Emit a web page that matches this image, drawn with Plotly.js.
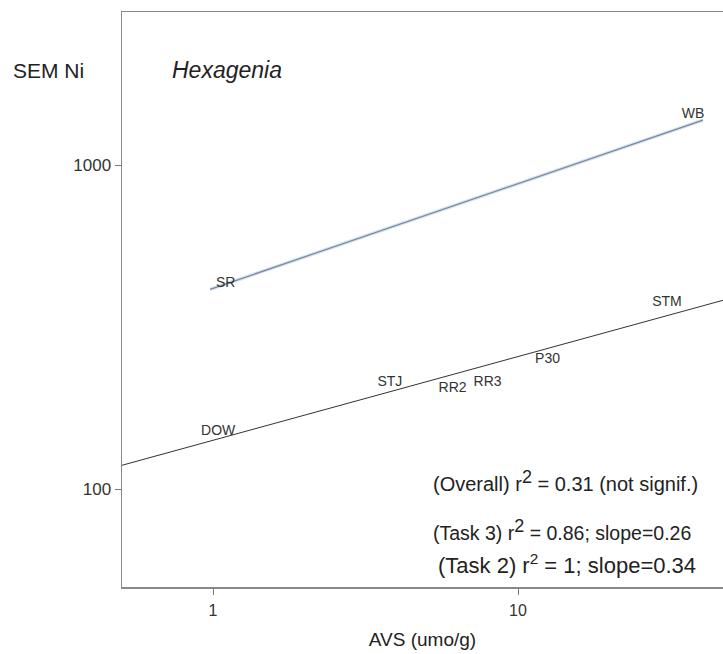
<!DOCTYPE html>
<html>
<head>
<meta charset="utf-8">
<script src="https://cdn.plot.ly/plotly-3.0.1.min.js"></script>
<style>html,body{margin:0;padding:0;background:#fff;}#chart{width:723px;height:654px;}</style>
</head>
<body>
<div id="chart"></div>
<script>
// Site labels (AVS umol/g, SEM Ni)
const siteNames = ["SR", "WB", "DOW", "STJ", "RR2", "RR3", "P30", "STM"];
const siteAVS   = [1.10, 37.5, 1.04, 3.80, 6.10, 7.95, 12.5, 30.8];
const siteSEM   = [433, 1436, 151, 213, 205, 214, 251, 378];

// Task 2 regression (upper line)
const task2X = [0.978, 40.4];
const task2Y = [414, 1377];

// Task 3 regression (lower line)
const task3X = [0.5, 47];
const task3Y = [118.5, 383];

const xTicks = [1, 10];
const yTicks = [100, 1000];

const font = "Liberation Sans, Arial, sans-serif";

const traces = [
  {x: task2X, y: task2Y, mode: "lines", line: {color: "#d3e2f4", width: 3.5}, hoverinfo: "skip", showlegend: false},
  {x: task2X, y: task2Y, mode: "lines", line: {color: "#7d8797", width: 1.2}, hoverinfo: "skip", showlegend: false},
  {x: task3X, y: task3Y, mode: "lines", line: {color: "#333333", width: 1}, hoverinfo: "skip", showlegend: false},
  {x: siteAVS, y: siteSEM, mode: "text", text: siteNames, textposition: "middle center",
   textfont: {family: font, size: 14, color: "#333"}, showlegend: false}
];

const layout = {
  width: 723, height: 654,
  margin: {l: 122, r: 0, t: 12, b: 67},
  paper_bgcolor: "#fff", plot_bgcolor: "#fff",
  showlegend: false,
  font: {family: font, color: "#333"},
  xaxis: {
    type: "log", range: [Math.log10(0.503), Math.log10(47)],
    tickvals: xTicks, ticktext: xTicks.map(String),
    ticks: "outside", ticklen: 6, tickcolor: "#777", tickwidth: 1,
    ticklabelstandoff: 2,
    showgrid: false, zeroline: false,
    showline: true, linecolor: "#888", linewidth: 1.5, mirror: true,
    tickfont: {family: font, size: 16, color: "#333"},
    title: {text: "AVS (umo/g)", font: {family: font, size: 19, color: "#222"}, standoff: 15}
  },
  yaxis: {
    type: "log", range: [Math.log10(50), Math.log10(2967)],
    tickvals: yTicks, ticktext: yTicks.map(String),
    ticks: "outside", ticklen: 6, tickcolor: "#777", tickwidth: 1,
    showgrid: false, zeroline: false,
    showline: true, linecolor: "#888", linewidth: 1.5,
    tickfont: {family: font, size: 17, color: "#333"}
  },
  annotations: [
    {xref: "paper", yref: "paper", x: -0.1847, y: 0.899, xanchor: "left", yanchor: "middle",
     text: "SEM Ni", showarrow: false, font: {family: font, size: 21, color: "#222"}},
    {xref: "paper", yref: "paper", x: 0.0799, y: 0.899, xanchor: "left", yanchor: "middle",
     text: "<i>Hexagenia</i>", showarrow: false, font: {family: font, size: 23, color: "#222"}},
    {xref: "paper", yref: "paper", x: 0.514, y: 0.184, xanchor: "left", yanchor: "middle",
     text: "(Overall) r<sup><span style=\"font-size:18px\">2</span></sup> = 0.31 (not signif.)", showarrow: false, font: {family: font, size: 20, color: "#222"}},
    {xref: "paper", yref: "paper", x: 0.514, y: 0.100, xanchor: "left", yanchor: "middle",
     text: "(Task 3) r<sup><span style=\"font-size:18px\">2</span></sup> = 0.86; slope=0.26", showarrow: false, font: {family: font, size: 19.5, color: "#222"}},
    {xref: "paper", yref: "paper", x: 0.522, y: 0.040, xanchor: "left", yanchor: "middle",
     text: "(Task 2) r<sup>2</sup> = 1; slope=0.34", showarrow: false, font: {family: font, size: 22, color: "#222"}}
  ]
};

Plotly.newPlot("chart", traces, layout, {displayModeBar: false, staticPlot: true});
</script>
</body>
</html>
